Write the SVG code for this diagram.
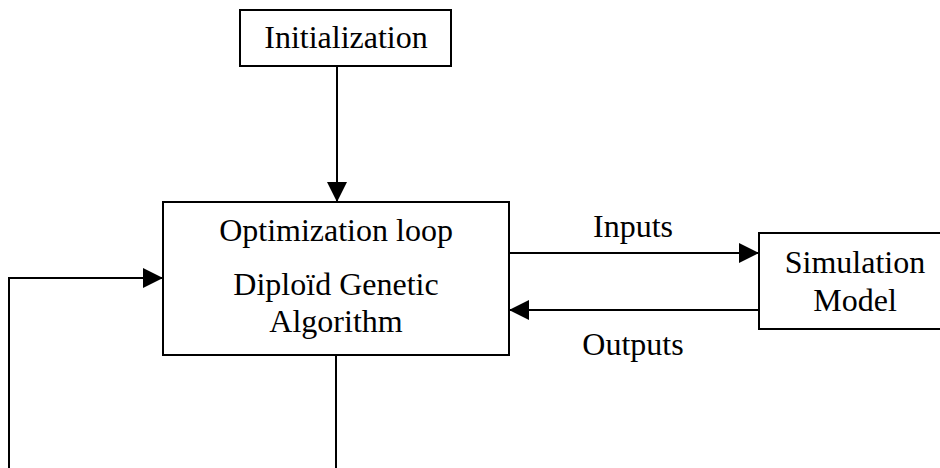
<svg xmlns="http://www.w3.org/2000/svg" width="940" height="468" viewBox="0 0 940 468">
<defs>
<style>
.box{fill:#fff;stroke:#000;stroke-width:2}
.ln{fill:none;stroke:#000;stroke-width:2}
text{font-family:"Liberation Serif","Times New Roman",serif;font-size:32px;fill:#000;text-anchor:middle}
</style>
<marker id="ah" viewBox="0 0 20 20" refX="20" refY="10" markerWidth="20" markerHeight="20" markerUnits="userSpaceOnUse" orient="auto">
<path d="M0,0 L20,10 L0,20 Z" fill="#000"/>
</marker>
</defs>
<rect width="940" height="468" fill="#fff"/>
<g id="connectors">
<line class="ln" x1="337" y1="66" x2="337" y2="202" marker-end="url(#ah)"/>
<line class="ln" x1="509" y1="253" x2="759" y2="253" marker-end="url(#ah)"/>
<line class="ln" x1="759" y1="310" x2="509" y2="310" marker-end="url(#ah)"/>
<polyline class="ln" points="9,468 9,278 163,278" marker-end="url(#ah)"/>
<line class="ln" x1="336" y1="355" x2="336" y2="468"/>
<text x="633" y="237">Inputs</text>
<text x="633" y="355">Outputs</text>
</g>
<g id="initialization">
<rect class="box" x="240" y="10" width="211" height="56"/>
<text x="346" y="48">Initialization</text>
</g>
<g id="optimization">
<rect class="box" x="163" y="202" width="346" height="153"/>
<text x="336" y="241">Optimization loop</text>
<text x="336" y="295">Diploïd Genetic</text>
<text x="336" y="332">Algorithm</text>
</g>
<g id="simulation">
<rect class="box" x="759" y="233" width="192" height="96"/>
<text x="855" y="273">Simulation</text>
<text x="855" y="311">Model</text>
</g>
</svg>
